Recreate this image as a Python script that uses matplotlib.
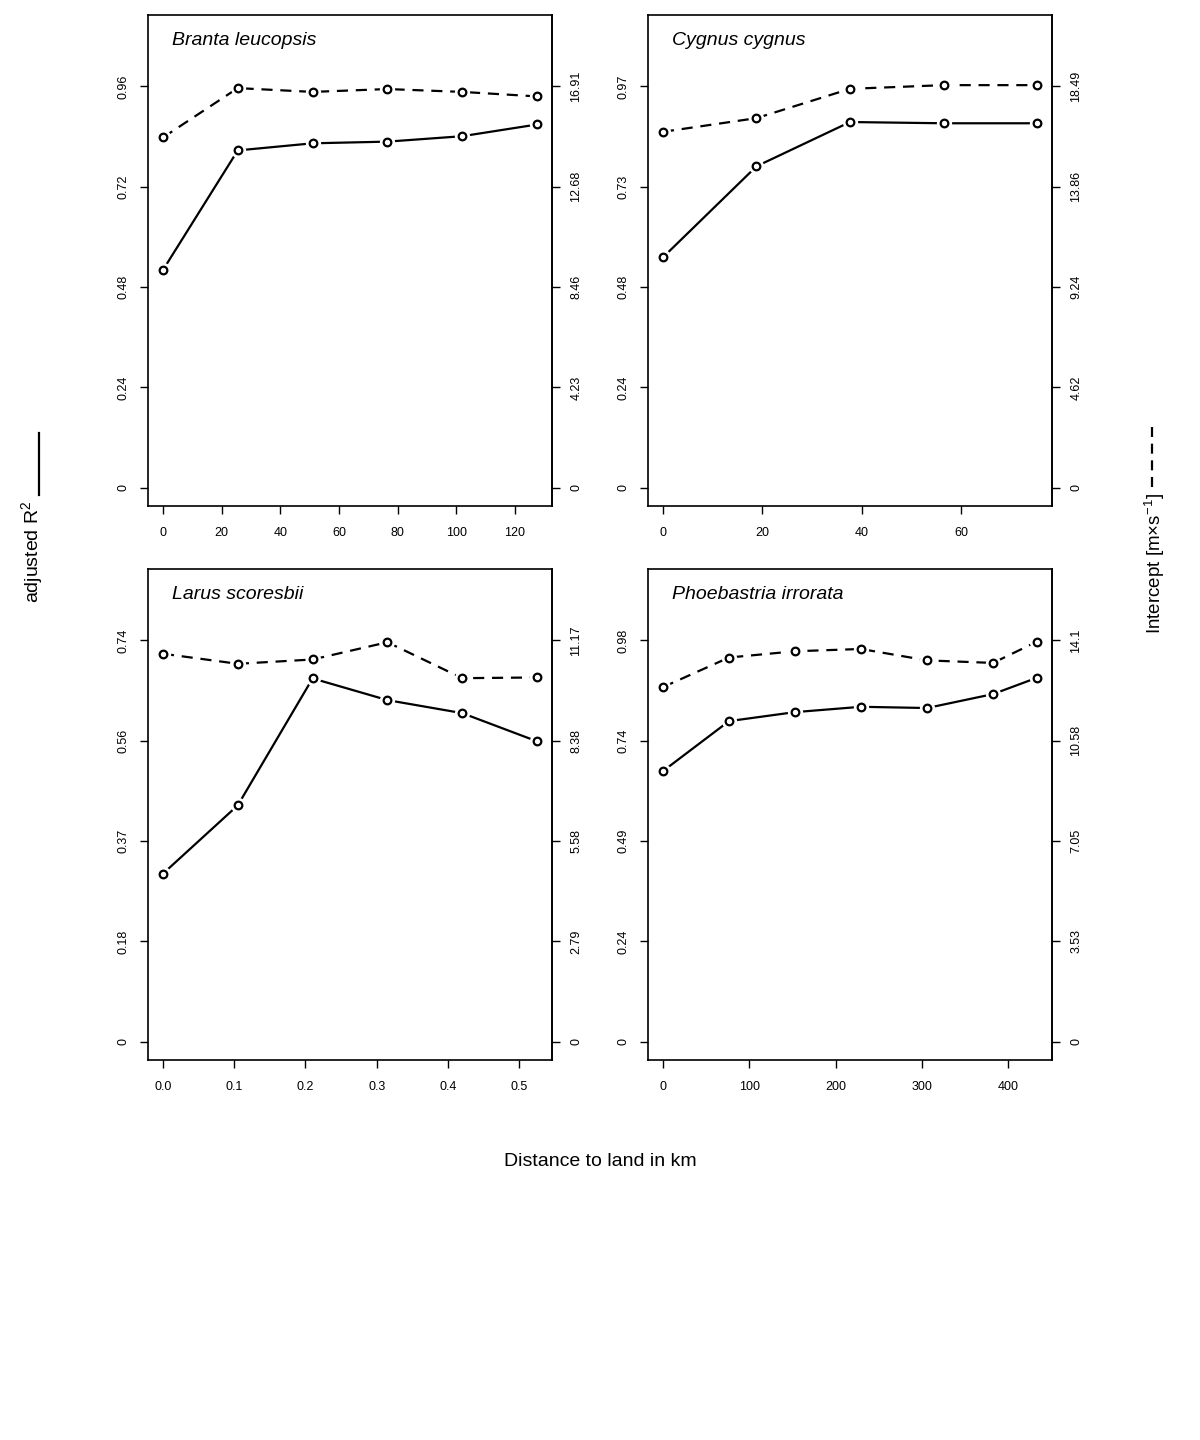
import numpy as np
import matplotlib
matplotlib.use('Agg')
import matplotlib.pyplot as plt
from matplotlib.lines import Line2D

plt.rcParams['font.family'] = ['Liberation Sans', 'DejaVu Sans']
plt.rcParams['mathtext.fontset'] = 'custom'
plt.rcParams['mathtext.rm'] = 'Liberation Sans'

# Data
species = ['Branta leucopsis', 'Cygnus cygnus', 'Larus scoresbii', 'Phoebastria irrorata']

dist_branta = [0, 25.5, 51, 76.5, 102, 127.5]
r2_branta = [0.521, 0.807, 0.824, 0.828, 0.841, 0.869]
icpt_branta = [14.76, 16.84, 16.68, 16.80, 16.68, 16.49]

dist_cygnus = [0, 18.8, 37.6, 56.4, 75.2]
r2_cygnus = [0.557, 0.777, 0.884, 0.881, 0.881]
icpt_cygnus = [16.40, 17.03, 18.38, 18.55, 18.55]

dist_larus = [0, 0.105, 0.21, 0.315, 0.42, 0.525]
r2_larus = [0.310, 0.436, 0.670, 0.630, 0.606, 0.554]
icpt_larus = [10.80, 10.52, 10.64, 11.12, 10.12, 10.14]

dist_phoeb = [0, 76.5, 153, 229.5, 306, 382.5, 433.5]
r2_phoeb = [0.661, 0.783, 0.805, 0.818, 0.815, 0.849, 0.889]
icpt_phoeb = [12.46, 13.50, 13.72, 13.80, 13.40, 13.31, 14.06]

# tick labels
r2_ticklabels = [['0', '0.24', '0.48', '0.72', '0.96'],
                 ['0', '0.24', '0.48', '0.73', '0.97'],
                 ['0', '0.18', '0.37', '0.56', '0.74'],
                 ['0', '0.24', '0.49', '0.74', '0.98']]
icpt_ticklabels = [['0', '4.23', '8.46', '12.68', '16.91'],
                   ['0', '4.62', '9.24', '13.86', '18.49'],
                   ['0', '2.79', '5.58', '8.38', '11.17'],
                   ['0', '3.53', '7.05', '10.58', '14.1']]
x_ticks = [[0, 20, 40, 60, 80, 100, 120],
           [0, 20, 40, 60],
           [0.0, 0.1, 0.2, 0.3, 0.4, 0.5],
           [0, 100, 200, 300, 400]]
x_ticklabels = [['0', '20', '40', '60', '80', '100', '120'],
                ['0', '20', '40', '60'],
                ['0.0', '0.1', '0.2', '0.3', '0.4', '0.5'],
                ['0', '100', '200', '300', '400']]

dists = [dist_branta, dist_cygnus, dist_larus, dist_phoeb]
r2s = [r2_branta, r2_cygnus, r2_larus, r2_phoeb]
icpts = [icpt_branta, icpt_cygnus, icpt_larus, icpt_phoeb]

# Plot settings
ft_tick = 9
ft_lab = 14
fracs = np.array([0, 0.25, 0.5, 0.75, 1.0])
dash = (0, (5, 3.5))

fig = plt.figure(figsize=(12, 14.4), dpi=100)
W, H = 1200, 1440
# panel boxes in pixels (left, top, right, bottom)
boxes = [(148, 15, 552, 506), (648, 15, 1052, 506),
         (148, 569, 552, 1060), (648, 569, 1052, 1060)]


def draw_series(ax, x, y, ls):
    ax.plot(x, y, color='k', lw=1.6, linestyle=ls, zorder=2)
    ax.plot(x, y, 'o', ms=11, mfc='white', mec='none', zorder=3)
    ax.plot(x, y, 'o', ms=5.5, mfc='white', mec='k', mew=1.6, zorder=4)


for i in range(4):
    x0, y0, x1, y1 = boxes[i]
    ax = fig.add_axes([x0 / W, 1 - y1 / H, (x1 - x0) / W, (y1 - y0) / H])
    ax2 = ax.twinx()

    m_left = float(r2_ticklabels[i][-1])
    m_right = float(icpt_ticklabels[i][-1])
    xmax = dists[i][-1]

    draw_series(ax, dists[i], r2s[i], '-')
    draw_series(ax2, dists[i], icpts[i], dash)

    ax.set_xlim(-0.04 * xmax, 1.04 * xmax)
    ax.set_ylim(-0.0453 * m_left, 1.178 * m_left)
    ax2.set_ylim(-0.0453 * m_right, 1.178 * m_right)

    ax.set_xticks(x_ticks[i], labels=x_ticklabels[i], fontsize=ft_tick)
    ax.set_yticks(fracs * m_left, labels=r2_ticklabels[i], fontsize=ft_tick,
                  rotation=90, va='center')
    ax2.set_yticks(fracs * m_right, labels=icpt_ticklabels[i], fontsize=ft_tick,
                   rotation=90, va='center')

    ax.tick_params(axis='x', length=5.6, width=1, pad=9.5)
    ax.tick_params(axis='y', length=5.6, width=1, pad=7.5)
    ax2.tick_params(axis='y', length=5.6, width=1, pad=7.5)
    for sp in ax.spines.values():
        sp.set_linewidth(1.2)
    for name, sp in ax2.spines.items():
        sp.set_visible(name == 'right')
        sp.set_linewidth(1.2)

    ax.text(0.059, 0.949, species[i], transform=ax.transAxes, fontsize=ft_lab,
            style='italic', ha='left', va='center')

# Shared labels
fig.text(600 / W, 1 - 1161 / H, 'Distance to land in km', fontsize=ft_lab,
         ha='center', va='center')
fig.text(33 / W, 1 - 603 / H, 'adjusted R$^2$', fontsize=ft_lab, rotation=90,
         ha='center', va='bottom')
fig.add_artist(Line2D([39 / W, 39 / W], [1 - 495 / H, 1 - 433 / H],
                      transform=fig.transFigure, color='k', lw=1.6))
fig.text(1155 / W, 1 - 563.5 / H, 'Intercept [m\u00d7s$^{-1}$]', fontsize=13.5,
         rotation=90, ha='center', va='center')
fig.add_artist(Line2D([1152 / W, 1152 / W], [1 - 487 / H, 1 - 427 / H],
                      transform=fig.transFigure, color='k', lw=1.6,
                      linestyle=(0, (4.5, 3))))

fig.savefig('out.png', dpi=100)
